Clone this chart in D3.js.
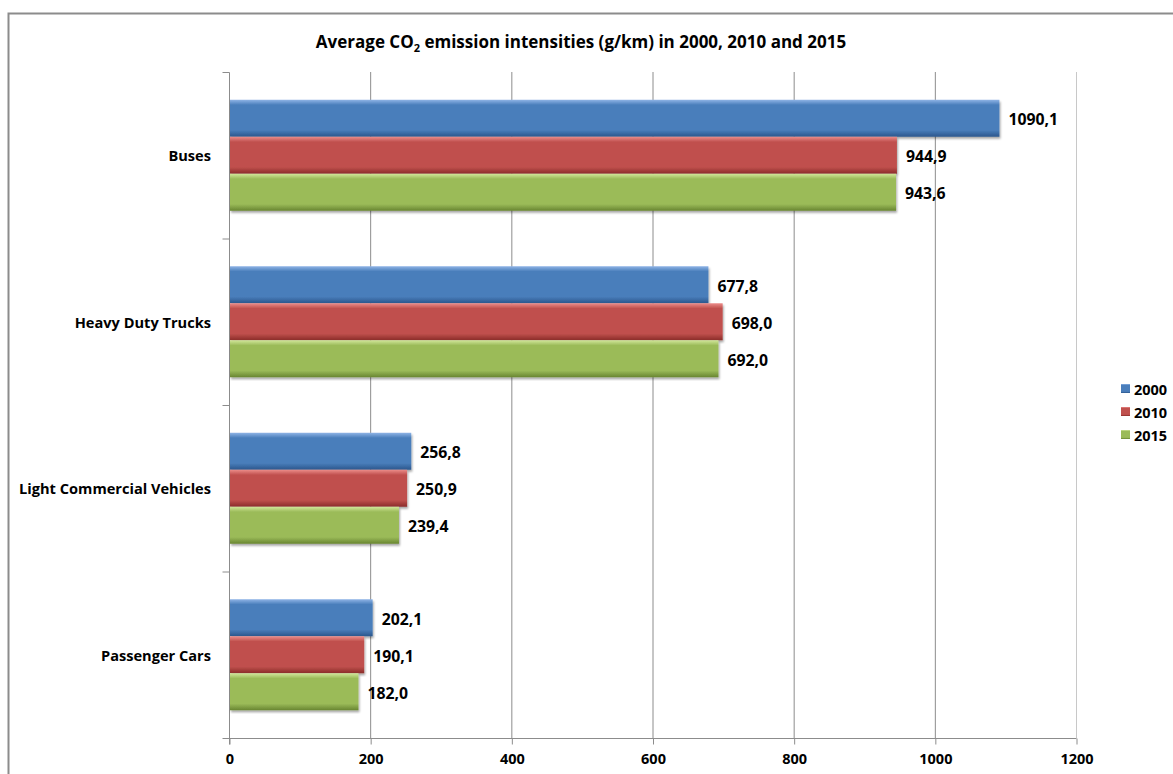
<!DOCTYPE html>
<html>
<head>
<meta charset="utf-8">
<script src="https://cdn.jsdelivr.net/npm/d3@7.9.0/dist/d3.min.js"></script>
<style>
  body { margin: 0; background: #fff; }
  svg text { font-family: "Open Sans", Lato, sans-serif; font-weight: bold; fill: #000; }
</style>
</head>
<body>
<svg width="1173" height="774"></svg>
<script>
const categories = ['Buses', 'Heavy Duty Trucks', 'Light Commercial Vehicles', 'Passenger Cars'];
const years = ['2000', '2010', '2015'];
const values2000 = [1090.1, 677.8, 256.8, 202.1];
const values2010 = [944.9, 698.0, 250.9, 190.1];
const values2015 = [943.6, 692.0, 239.4, 182.0];
const xTicks = [0, 200, 400, 600, 800, 1000, 1200];

const series = [values2000, values2010, values2015];
const colors = [
  { light: '#8fb4e6', mid: '#4a7ebb', dark: '#2a568c' },
  { light: '#ec8d8a', mid: '#c0504d', dark: '#8a2c29' },
  { light: '#d2e79a', mid: '#9bbb59', dark: '#688531' }
];

const svg = d3.select('svg');
const margin = { left: 229, right: 1076, top: 72, bottom: 738 };

// outer border
svg.append('rect')
  .attr('x', 8.5).attr('y', 13.5)
  .attr('width', 1180).attr('height', 780)
  .attr('fill', 'none').attr('stroke', '#8c8c8c').attr('stroke-width', 2);

const defs = svg.append('defs');
colors.forEach((c, i) => {
  let g = defs.append('linearGradient').attr('id', 'grad' + i)
    .attr('x1', 0).attr('y1', 0).attr('x2', 0).attr('y2', 1);
  g.append('stop').attr('offset', '0%').attr('stop-color', c.light);
  g.append('stop').attr('offset', '14%').attr('stop-color', c.mid);
  g.append('stop').attr('offset', '82%').attr('stop-color', c.mid);
  g.append('stop').attr('offset', '100%').attr('stop-color', c.dark);
});
defs.append('filter').attr('id', 'shadow')
  .append('feDropShadow').attr('dx', 1).attr('dy', 2).attr('stdDeviation', 1.2)
  .attr('flood-color', '#000').attr('flood-opacity', 0.35);

const x = d3.scaleLinear().domain([0, 1200]).range([margin.left, margin.right]);
const y = d3.scaleBand().domain(categories).range([margin.top, margin.bottom]).paddingInner(0).paddingOuter(0);
const sub = d3.scaleBand().domain(years).range([0, y.bandwidth()]).paddingInner(0).paddingOuter(0.75);

// gridlines
svg.append('g').selectAll('line').data(xTicks.slice(1)).join('line')
  .attr('x1', d => x(d) + 0.5).attr('x2', d => x(d) + 0.5)
  .attr('y1', margin.top).attr('y2', margin.bottom)
  .attr('stroke', (d, i) => d === 1200 ? '#c8c8c8' : '#8c8c8c').attr('stroke-width', 1);

// x axis
const xAxis = svg.append('g').attr('transform', `translate(0.5,${margin.bottom + 0.5})`)
  .call(d3.axisBottom(x).tickValues(xTicks).tickSize(6).tickPadding(9).tickFormat(d3.format('d')));
xAxis.select('.domain').attr('stroke', '#8c8c8c').attr('d', `M${margin.left},0H${margin.right}`);
xAxis.selectAll('.tick line').attr('stroke', '#8c8c8c');
xAxis.selectAll('text').attr('font-size', 14.5).attr('font-family', '"Open Sans", sans-serif').attr('font-weight', 'bold');

// y axis
const yAxis = svg.append('g').attr('transform', `translate(${margin.left + 0.5},0.5)`);
yAxis.append('line').attr('x1', 0).attr('x2', 0).attr('y1', margin.top).attr('y2', margin.bottom + 6)
  .attr('stroke', '#8c8c8c');
yAxis.selectAll('line.tk').data(d3.range(categories.length + 1)).join('line').attr('class', 'tk')
  .attr('x1', -7).attr('x2', 0)
  .attr('y1', i => margin.top + i * y.step()).attr('y2', i => margin.top + i * y.step())
  .attr('stroke', '#8c8c8c');
svg.append('g').selectAll('text').data(categories).join('text')
  .attr('x', 211).attr('y', d => y(d) + y.bandwidth() / 2)
  .attr('text-anchor', 'end').attr('dominant-baseline', 'central')
  .attr('font-size', 14.6).text(d => d);

// bars
const fmt = d3.formatLocale({ decimal: ',', thousands: '.', grouping: [3], currency: ['', ''] }).format('.1f');
series.forEach((vals, si) => {
  const g = svg.append('g');
  g.selectAll('rect').data(vals).join('rect')
    .attr('x', x(0) + 1)
    .attr('y', (d, i) => y(categories[i]) + sub(years[si]))
    .attr('width', d => x(d) - x(0))
    .attr('height', sub.bandwidth())
    .attr('fill', `url(#grad${si})`)
    .attr('filter', 'url(#shadow)');
  g.selectAll('text').data(vals).join('text')
    .attr('x', d => x(d) + 10)
    .attr('y', (d, i) => y(categories[i]) + sub(years[si]) + sub.bandwidth() / 2 + 1)
    .attr('dominant-baseline', 'central')
    .attr('font-size', 15.8)
    .text(d => fmt(d));
});

// title
const title = svg.append('text').attr('x', 581).attr('y', 48).attr('text-anchor', 'middle').attr('font-size', 17);
title.append('tspan').text('Average CO');
title.append('tspan').attr('font-size', 11).attr('dy', 4).text('2');
title.append('tspan').attr('dy', -4).text(' emission intensities (g/km) in 2000, 2010 and 2015');

// legend
const legend = svg.append('g');
years.forEach((yr, i) => {
  legend.append('rect').attr('x', 1121).attr('y', 384 + i * 23).attr('width', 9).attr('height', 9)
    .attr('fill', `url(#grad${i})`);
  legend.append('text').attr('x', 1134).attr('y', 389 + i * 23)
    .attr('dominant-baseline', 'central').attr('font-size', 14.5).text(yr);
});
</script>
</body>
</html>
